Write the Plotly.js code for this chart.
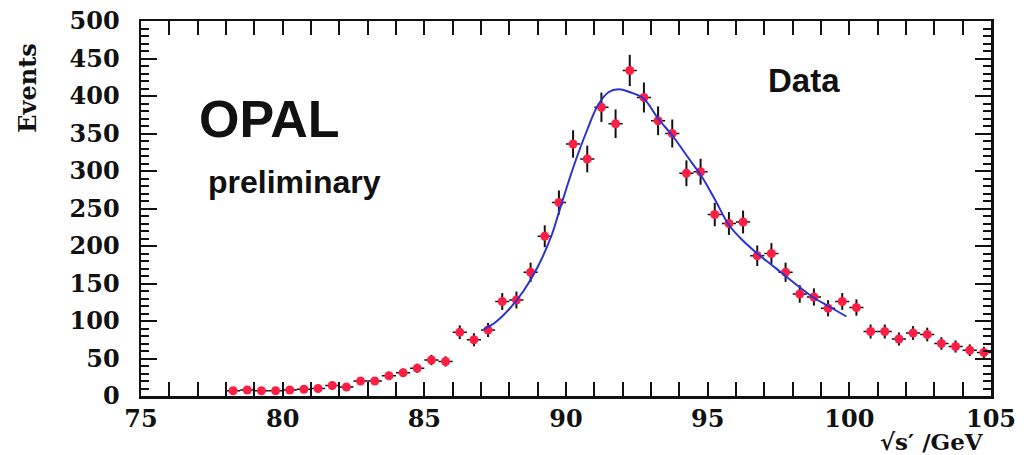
<!DOCTYPE html>
<html>
<head>
<meta charset="utf-8">
<script src="https://cdn.plot.ly/plotly-3.0.1.min.js"></script>
<style>
  html, body { margin: 0; padding: 0; background: #ffffff; overflow: hidden; width: 1026px; height: 455px; }
  #plot { position: absolute; left: 0; top: 0; width: 1026px; height: 455px; }
</style>
</head>
<body>
<div id="plot"></div>
<script>
// Bin centres of sqrt(s') in GeV
const binCentres = [78.25, 78.75, 79.25, 79.75, 80.25, 80.75, 81.25, 81.75, 82.25, 82.75,
  83.25, 83.75, 84.25, 84.75, 85.25, 85.75, 86.25, 86.75, 87.25, 87.75,
  88.25, 88.75, 89.25, 89.75, 90.25, 90.75, 91.25, 91.75, 92.25, 92.75,
  93.25, 93.75, 94.25, 94.75, 95.25, 95.75, 96.25, 96.75, 97.25, 97.75,
  98.25, 98.75, 99.25, 99.75, 100.25, 100.75, 101.25, 101.75, 102.25, 102.75,
  103.25, 103.75, 104.25, 104.75];

// Events per bin
const events = [7, 8, 7, 7, 8, 9, 10, 14, 12, 20,
  20, 27, 31, 37, 48, 46, 85, 75, 88, 126,
  128, 165, 213, 258, 336, 316, 385, 363, 434, 398,
  367, 350, 297, 299, 242, 230, 232, 187, 190, 165,
  136, 132, 117, 126, 118, 86, 86, 76, 84, 82,
  70, 66, 61, 58];

// Vertical error bar half-lengths
const eventErrors = [2.6, 2.8, 2.6, 2.6, 2.8, 3, 3.2, 3.7, 3.5, 4.5,
  4.5, 5.2, 5.6, 6.1, 6.9, 6.8, 9.2, 8.7, 9.4, 11.2,
  11.3, 12.8, 14.6, 16.1, 18.3, 17.8, 19.6, 19.1, 20.8, 20,
  19.2, 18.7, 17.2, 17.3, 15.6, 15.2, 15.2, 13.7, 13.8, 12.8,
  11.7, 11.5, 10.8, 11.2, 10.9, 9.3, 9.3, 8.7, 9.2, 9.1,
  8.4, 8.1, 7.8, 7.6];

// Half bin width (GeV)
const halfBin = 0.25;

// Fit curve
const fitX = [87.1, 87.5, 88.0, 88.5, 89.0, 89.5, 89.75, 90.25, 90.75, 91.13,
  91.5, 91.86, 92.26, 92.73, 93.25, 93.8, 94.27, 94.8, 95.27, 95.75,
  96.25, 96.75, 97.25, 97.75, 98.25, 98.75, 99.25, 99.9];
const fitY = [89, 98, 116, 140, 172, 215, 245, 304, 355, 388,
  405, 409, 405, 397, 370, 345, 320, 292, 261, 228,
  207, 190, 175, 160, 145, 131, 120, 106];

// Axis ranges
const xRange = [75, 105];
const yRange = [0, 500];

// Texts
const xTitle = '\u221As\u2032 /GeV';
const yTitle = 'Events';
const labelExperiment = 'OPAL';
const labelStatus = 'preliminary';
const labelSample = 'Data';

const ink = '#111111';
const serifBold = {family: 'DejaVu Serif', size: 24, color: ink, weight: 'bold'};
const titleFont = {family: 'DejaVu Serif', size: 23, color: ink, weight: 'bold'};

const traces = [
  {
    type: 'scatter', mode: 'lines', x: fitX, y: fitY, yaxis: 'y2',
    line: {color: '#2b33d6', width: 2, shape: 'spline', smoothing: 1},
    hoverinfo: 'skip'
  },
  {
    type: 'scatter', mode: 'markers', x: binCentres, y: events,
    marker: {size: 9, color: '#ff1f45', line: {width: 0}},
    error_y: {type: 'data', array: eventErrors, visible: true, color: ink, thickness: 2, width: 0},
    error_x: {type: 'constant', value: halfBin, visible: true, color: ink, thickness: 1.5, width: 0}
  }
];

const layout = {
  width: 1026, height: 455,
  margin: {l: 141, r: 35, t: 21, b: 59, pad: 0},
  paper_bgcolor: '#ffffff', plot_bgcolor: '#ffffff',
  showlegend: false,
  xaxis: {
    range: xRange, tickmode: 'linear', tick0: 75, dtick: 5,
    showline: true, linewidth: 2.5, linecolor: ink, mirror: 'allticks',
    ticks: 'inside', ticklen: 14, tickwidth: 2, tickcolor: ink,
    showgrid: false, zeroline: false, tickfont: serifBold,
    minor: {dtick: 1, ticks: 'inside', ticklen: 7, tickwidth: 2, tickcolor: ink, showgrid: false}
  },
  // labels axis: transparent outside ticks push the labels away from the frame
  yaxis: {
    range: yRange, tickmode: 'linear', tick0: 0, dtick: 50,
    showline: true, linewidth: 2.5, linecolor: ink, mirror: true,
    ticks: 'outside', ticklen: 14, tickwidth: 1, tickcolor: 'rgba(0,0,0,0)',
    showgrid: false, zeroline: false, tickfont: serifBold
  },
  // tick axis: visible inside ticks on left and right, no labels
  yaxis2: {
    range: yRange, overlaying: 'y', anchor: 'x', side: 'left',
    tickmode: 'linear', tick0: 0, dtick: 50, showticklabels: false,
    showline: true, linewidth: 2.5, linecolor: ink, mirror: 'allticks',
    ticks: 'inside', ticklen: 16, tickwidth: 2, tickcolor: ink,
    showgrid: false, zeroline: false,
    minor: {dtick: 10, ticks: 'inside', ticklen: 8, tickwidth: 2, tickcolor: ink, showgrid: false}
  },
  annotations: [
    {text: labelExperiment, xref: 'x', yref: 'y', x: 79.52, y: 369, xanchor: 'center', yanchor: 'middle', showarrow: false,
     font: {family: 'Liberation Sans', size: 52, color: ink, weight: 'bold'}},
    {text: labelStatus, xref: 'x', yref: 'y', x: 80.4, y: 286, xanchor: 'center', yanchor: 'middle', showarrow: false,
     font: {family: 'Liberation Sans', size: 32, color: ink, weight: 'bold'}},
    {text: labelSample, xref: 'x', yref: 'y', x: 98.4, y: 421, xanchor: 'center', yanchor: 'middle', showarrow: false,
     font: {family: 'Liberation Sans', size: 33, color: ink, weight: 'bold'}},
    {text: yTitle, xref: 'paper', yref: 'y', x: -0.133, y: 411, xanchor: 'center', yanchor: 'middle', textangle: -90, showarrow: false,
     font: serifBold},
    {text: xTitle, xref: 'x', yref: 'paper', x: 102.9, y: -0.12, xanchor: 'center', yanchor: 'middle', showarrow: false,
     font: titleFont}
  ]
};

Plotly.newPlot('plot', traces, layout, {staticPlot: true, displayModeBar: false});
</script>
</body>
</html>
